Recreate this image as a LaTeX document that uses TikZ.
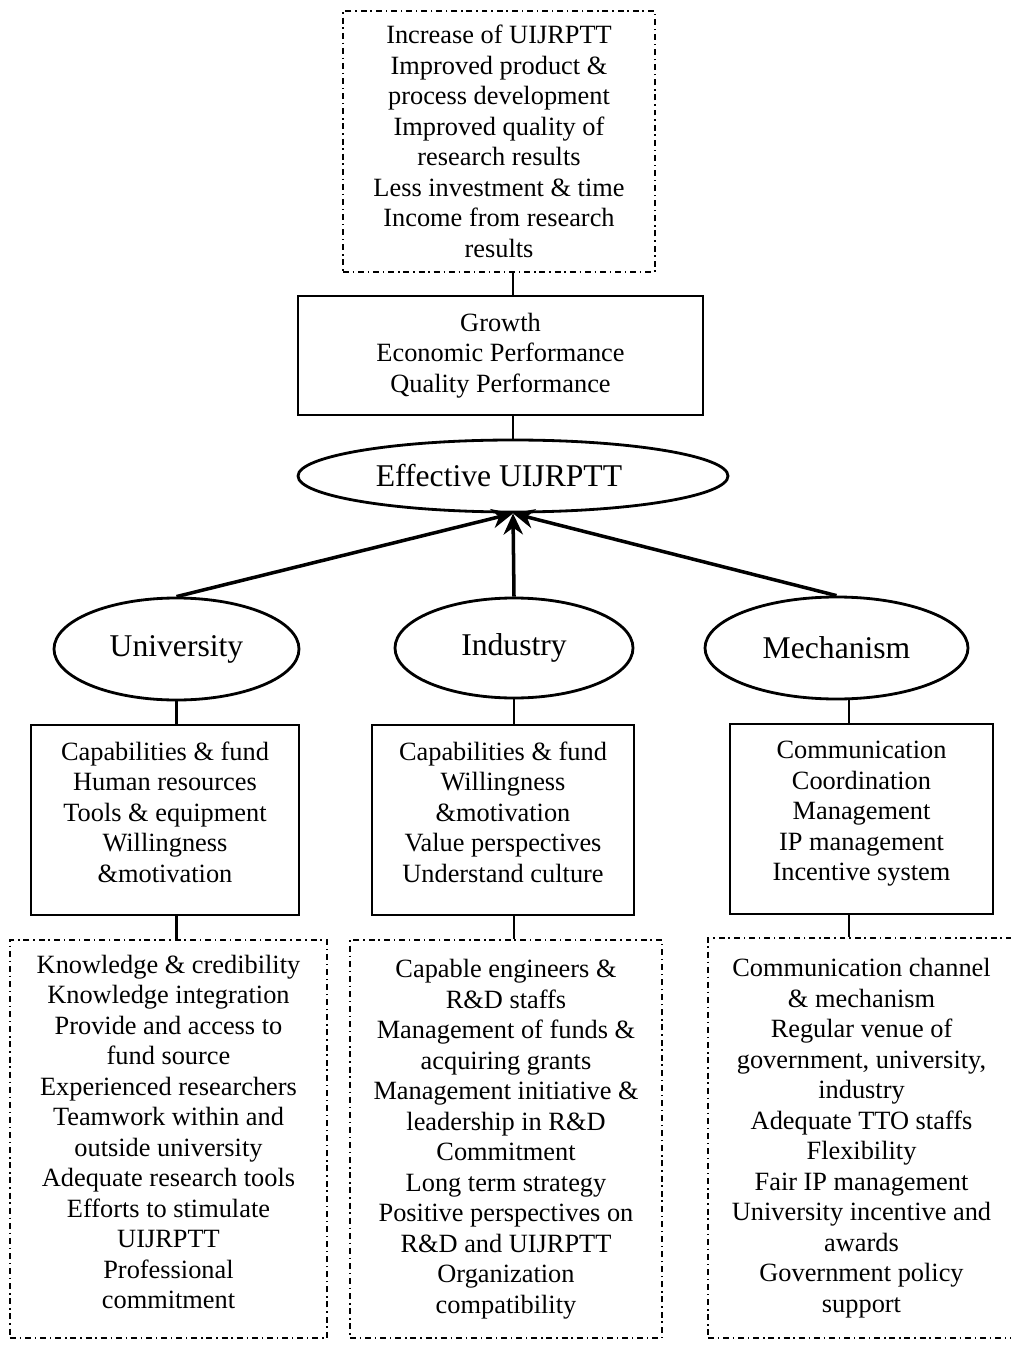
\documentclass[tikz,border=0pt]{standalone}
\usepackage{fontspec}
\setmainfont{Liberation Serif}
\usetikzlibrary{shapes.geometric,arrows.meta}
\tikzset{
	textfont/.style={font=\fontsize{7.5}{8.68}\selectfont},
	dashbox/.style={draw,line width=0.6pt,dash pattern=on 1.7pt off 1.1pt on 0.4pt off 1.1pt,align=center,inner sep=0pt,textfont},
	solidbox/.style={draw,line width=0.8pt,align=center,inner sep=0pt,textfont},
	oval/.style={draw,ellipse,line width=0.8pt,inner sep=0pt,font=\fontsize{9}{10}\selectfont},
	link/.style={line width=0.8pt},
	arrowlink/.style={line width=1pt,-{Stealth[length=6pt,width=5.5pt]}}
}
\begin{document}
\begin{tikzpicture}
	\useasboundingbox (0,0) rectangle (10.11,-13.46);
		% outcomes and performance
		\node[dashbox,minimum width=3.12cm,minimum height=2.61cm] (outcome) at (4.99,-1.415)
			{Increase of UIJRPTT\\Improved product \&\\process development\\Improved quality of\\research results\\Less investment \& time\\Income from research\\results};
		\node[solidbox,minimum width=4.05cm,minimum height=1.19cm] (growth) at (5.005,-3.555)
			{Growth\\Economic Performance\\Quality Performance};
		\node[oval,minimum width=4.30cm,minimum height=0.72cm] (effective) at (5.13,-4.76) {Effective UIJRPTT\hspace*{0.28cm}};
		% three parties
		\node[oval,minimum width=2.45cm,minimum height=1.02cm] (uni) at (1.765,-6.49) {University};
		\node[oval,minimum width=2.38cm,minimum height=1.00cm] (ind) at (5.14,-6.48) {Industry};
		\node[oval,minimum width=2.63cm,minimum height=1.02cm] (mech) at (8.365,-6.48) {Mechanism};
		% factors
		\node[solidbox,minimum width=2.68cm,minimum height=1.90cm,text depth=0.16cm] (unibox) at (1.65,-8.20)
			{Capabilities \& fund\\Human resources\\Tools \& equipment\\Willingness\\\&motivation};
		\node[solidbox,minimum width=2.62cm,minimum height=1.90cm,text depth=0.16cm] (indbox) at (5.03,-8.20)
			{Capabilities \& fund\\Willingness\\\&motivation\\Value perspectives\\Understand culture};
		\node[solidbox,minimum width=2.63cm,minimum height=1.90cm,text depth=0.16cm] (mechbox) at (8.615,-8.19)
			{Communication\\Coordination\\Management\\IP management\\Incentive system};
		% detailed factors
		\node[dashbox,minimum width=3.17cm,minimum height=3.98cm,text depth=0.14cm] (unilist) at (1.685,-11.39)
			{Knowledge \& credibility\\Knowledge integration\\Provide and access to\\fund source\\Experienced researchers\\Teamwork within and\\outside university\\Adequate research tools\\Efforts to stimulate\\UIJRPTT\\Professional\\commitment};
		\node[dashbox,minimum width=3.12cm,minimum height=3.98cm] (indlist) at (5.06,-11.39)
			{Capable engineers \&\\R\&D staffs\\Management of funds \&\\acquiring grants\\Management initiative \&\\leadership in R\&D\\Commitment\\Long term strategy\\Positive perspectives on\\R\&D and UIJRPTT\\Organization\\compatibility};
		\node[dashbox,minimum width=3.07cm,minimum height=4.00cm] (mechlist) at (8.615,-11.38)
			{Communication channel\\\& mechanism\\Regular venue of\\government, university,\\industry\\Adequate TTO staffs\\Flexibility\\Fair IP management\\University incentive and\\awards\\Government policy\\support};
		% connectors
		\draw[link] (outcome.south -| effective) -- (growth.north -| effective);
		\draw[link] (growth.south -| effective) -- (effective.north);
		\draw[arrowlink] (uni.north) -- (effective.south);
		\draw[arrowlink] (ind.north) -- (effective.south);
		\draw[arrowlink] (mech.north) -- (effective.south);
		\draw[link] (uni.south) -- (unibox.north -| uni);
		\draw[link] (unibox.south -| uni) -- (unilist.north -| uni);
		\draw[link] (ind.south) -- (indbox.north -| ind);
		\draw[link] (indbox.south -| ind) -- (indlist.north -| ind);
		\draw[link] ([xshift=-1.25mm]mechbox.north) -- ([xshift=-1.25mm]mechbox.north |- mech.south);
		\draw[link] ([xshift=-1.25mm]mechbox.south) -- ([xshift=-1.25mm]mechbox.south |- mechlist.north);
	\end{tikzpicture}
\end{document}
